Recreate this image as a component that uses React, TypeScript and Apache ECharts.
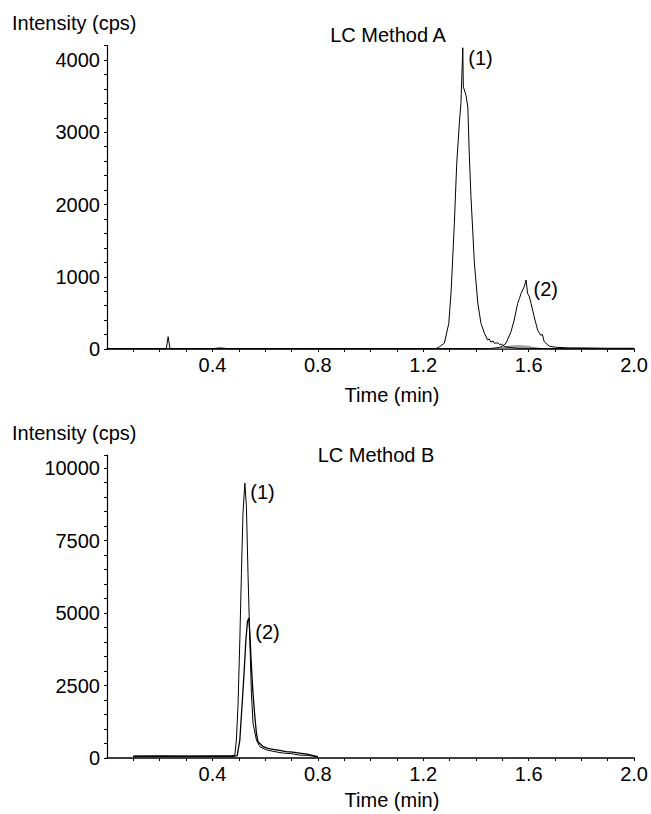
import React, { useEffect, useRef } from "react";
import * as echarts from "echarts";

// ---- LC Method A ----
const timeA1 = [0.0, 0.1, 0.2, 0.225, 0.232, 0.239, 0.26, 0.4, 0.43, 0.46, 0.6, 0.8, 1.0, 1.2, 1.25, 1.261, 1.28, 1.297, 1.306, 1.318, 1.327, 1.337, 1.343, 1.35, 1.352, 1.362, 1.369, 1.375, 1.381, 1.394, 1.407, 1.419, 1.432, 1.444, 1.45, 1.457, 1.465, 1.47, 1.483, 1.49, 1.495, 1.51, 1.53, 1.56, 1.6, 1.7, 1.8, 1.9, 2.0];
const intensityA1 = [5, 5, 5, 5, 170, 5, 5, 5, 15, 5, 5, 5, 5, 5, 8, 30, 80, 355, 815, 1740, 2570, 3130, 3400, 4170, 3630, 3515, 3350, 2660, 2110, 1190, 635, 355, 220, 125, 140, 95, 110, 80, 85, 60, 70, 30, 20, 10, 8, 5, 5, 5, 5];

const timeA2 = [0.0, 0.5, 1.0, 1.45, 1.489, 1.5, 1.514, 1.533, 1.545, 1.558, 1.565, 1.571, 1.583, 1.59, 1.596, 1.603, 1.609, 1.621, 1.634, 1.646, 1.652, 1.659, 1.678, 1.7, 1.75, 1.8, 1.9, 2.0];
const intensityA2 = [3, 3, 3, 5, 20, 40, 80, 240, 400, 630, 700, 770, 860, 955, 770, 720, 630, 445, 260, 190, 200, 100, 40, 25, 15, 15, 10, 10];

const timeA3 = [1.45, 1.5, 1.53, 1.56, 1.59, 1.62, 1.66];
const intensityA3 = [0, 20, 40, 45, 40, 20, 0];

// ---- LC Method B ----
const timeB1 = [0.1, 0.2, 0.3, 0.4, 0.47, 0.485, 0.491, 0.497, 0.504, 0.51, 0.516, 0.523, 0.529, 0.535, 0.542, 0.548, 0.554, 0.567, 0.58, 0.605, 0.63, 0.668, 0.7, 0.731, 0.76, 0.795, 0.8];
const intensityB1 = [60, 70, 60, 70, 70, 100, 620, 1770, 4070, 6370, 8440, 9480, 8670, 6370, 4070, 2230, 1200, 620, 390, 280, 230, 170, 150, 100, 90, 50, 40];

const timeB2 = [0.1, 0.2, 0.3, 0.4, 0.48, 0.494, 0.504, 0.512, 0.52, 0.527, 0.533, 0.538, 0.542, 0.548, 0.554, 0.561, 0.567, 0.573, 0.593, 0.61, 0.63, 0.655, 0.68, 0.705, 0.73, 0.76, 0.795, 0.8];
const intensityB2 = [60, 60, 60, 60, 60, 80, 620, 1770, 2920, 4070, 4710, 4830, 4300, 3150, 2230, 1420, 850, 560, 390, 330, 300, 260, 220, 200, 170, 130, 60, 40];

const peakLabels = ["(1)", "(2)"];
const xLabelTicks = [0.4, 0.8, 1.2, 1.6, 2.0];

const FONT = "'Liberation Sans', Arial, sans-serif";

function pairs(t: number[], v: number[]) {
  return t.map((x, i) => [x, v[i]]);
}

function peakOf(t: number[], v: number[]) {
  let k = 0;
  v.forEach((y, i) => {
    if (y > v[k]) k = i;
  });
  return [t[k], v[k]];
}

function xAxisFor(gridIndex: number) {
  return {
    type: "value",
    gridIndex,
    min: 0,
    max: 2,
    interval: 0.1,
    axisLine: { show: true, onZero: false, lineStyle: { color: "#000", width: 1.5 } },
    axisTick: { show: true, length: 3, lineStyle: { color: "#000", width: 1 } },
    splitLine: { show: false },
    axisLabel: {
      margin: 6,
      fontSize: 20,
      fontFamily: FONT,
      color: "#000",
      showMinLabel: false,
      formatter: (v: number) => {
        const r = Math.round(v * 10) / 10;
        return xLabelTicks.some((x) => Math.abs(x - r) < 1e-6) ? r.toFixed(1) : "";
      },
    },
  };
}

function yAxisFor(gridIndex: number, max: number, interval: number, labelStep: number) {
  return {
    type: "value",
    gridIndex,
    min: 0,
    max,
    interval,
    axisLine: { show: true, lineStyle: { color: "#000", width: 1.2 } },
    axisTick: { show: true, length: 3, lineStyle: { color: "#000", width: 1 } },
    splitLine: { show: false },
    axisLabel: {
      margin: 7,
      fontSize: 20,
      fontFamily: FONT,
      color: "#000",
      formatter: (v: number) => (Math.abs(v % labelStep) < 1e-6 ? String(v) : ""),
    },
  };
}

function markLabel(coord: number[], text: string, offset: number[]) {
  return {
    symbol: "circle",
    symbolSize: 1,
    itemStyle: { color: "transparent" },
    silent: true,
    data: [
      {
        coord,
        label: {
          show: true,
          position: "right",
          distance: 5,
          offset,
          formatter: text,
          fontSize: 20,
          fontFamily: FONT,
          color: "#000",
        },
      },
    ],
  };
}

function lineSeries(xi: number, data: number[][], extra: any = {}) {
  return {
    type: "line",
    xAxisIndex: xi,
    yAxisIndex: xi,
    data,
    showSymbol: false,
    symbol: "none",
    lineStyle: { color: "#000", width: 1 },
    itemStyle: { color: "#000" },
    z: 3,
    ...extra,
  };
}

export default function App() {
  const ref = useRef<HTMLDivElement>(null);

  useEffect(() => {
    if (!ref.current) return;
    const chart = echarts.init(ref.current, undefined, { renderer: "svg" });

    const pA1 = peakOf(timeA1, intensityA1);
    const pA2 = peakOf(timeA2, intensityA2);
    const pB1 = peakOf(timeB1, intensityB1);
    const pB2 = peakOf(timeB2, intensityB2);

    const textStyle = (text: string, x: number, y: number, align = "left") => ({
      type: "text",
      x,
      y,
      style: {
        text,
        fontSize: 20,
        fontFamily: FONT,
        fill: "#000",
        align,
        verticalAlign: "middle",
      },
    });

    chart.setOption({
      animation: false,
      backgroundColor: "#fff",
      grid: [
        { left: 107, top: 45.6, width: 528, height: 303.4 },
        { left: 107, top: 455, width: 528, height: 303 },
      ],
      xAxis: [xAxisFor(0), xAxisFor(1)],
      yAxis: [yAxisFor(0, 4200, 200, 1000), yAxisFor(1, 10450, 500, 2500)],
      series: [
        lineSeries(0, pairs(timeA3, intensityA3), {
          lineStyle: { color: "#888", width: 1 },
          areaStyle: { color: "#999" },
          z: 2,
        }),
        lineSeries(0, pairs(timeA1, intensityA1), {
          markPoint: markLabel(pA1, peakLabels[0], [0, 10]),
        }),
        lineSeries(0, pairs(timeA2, intensityA2), {
          markPoint: markLabel(pA2, peakLabels[1], [2, 9]),
        }),
        lineSeries(1, pairs(timeB1, intensityB1), {
          markPoint: markLabel(pB1, peakLabels[0], [0, 9]),
        }),
        lineSeries(1, pairs(timeB2, intensityB2), {
          lineStyle: { color: "#000", width: 1.3 },
          markPoint: markLabel(pB2, peakLabels[1], [1, 14]),
        }),
      ],
      graphic: [
        textStyle("Intensity (cps)", 12, 23),
        textStyle("LC Method A", 388, 35, "center"),
        textStyle("Time (min)", 392, 395, "center"),
        textStyle("Intensity (cps)", 12, 433),
        textStyle("LC Method B", 376, 455, "center"),
        textStyle("Time (min)", 392, 800, "center"),
      ],
    });

    return () => {
      chart.dispose();
    };
  }, []);

  return (
    <div
      ref={ref}
      style={{ position: "fixed", left: 0, top: 0, width: 651, height: 814, background: "#fff" }}
    />
  );
}
